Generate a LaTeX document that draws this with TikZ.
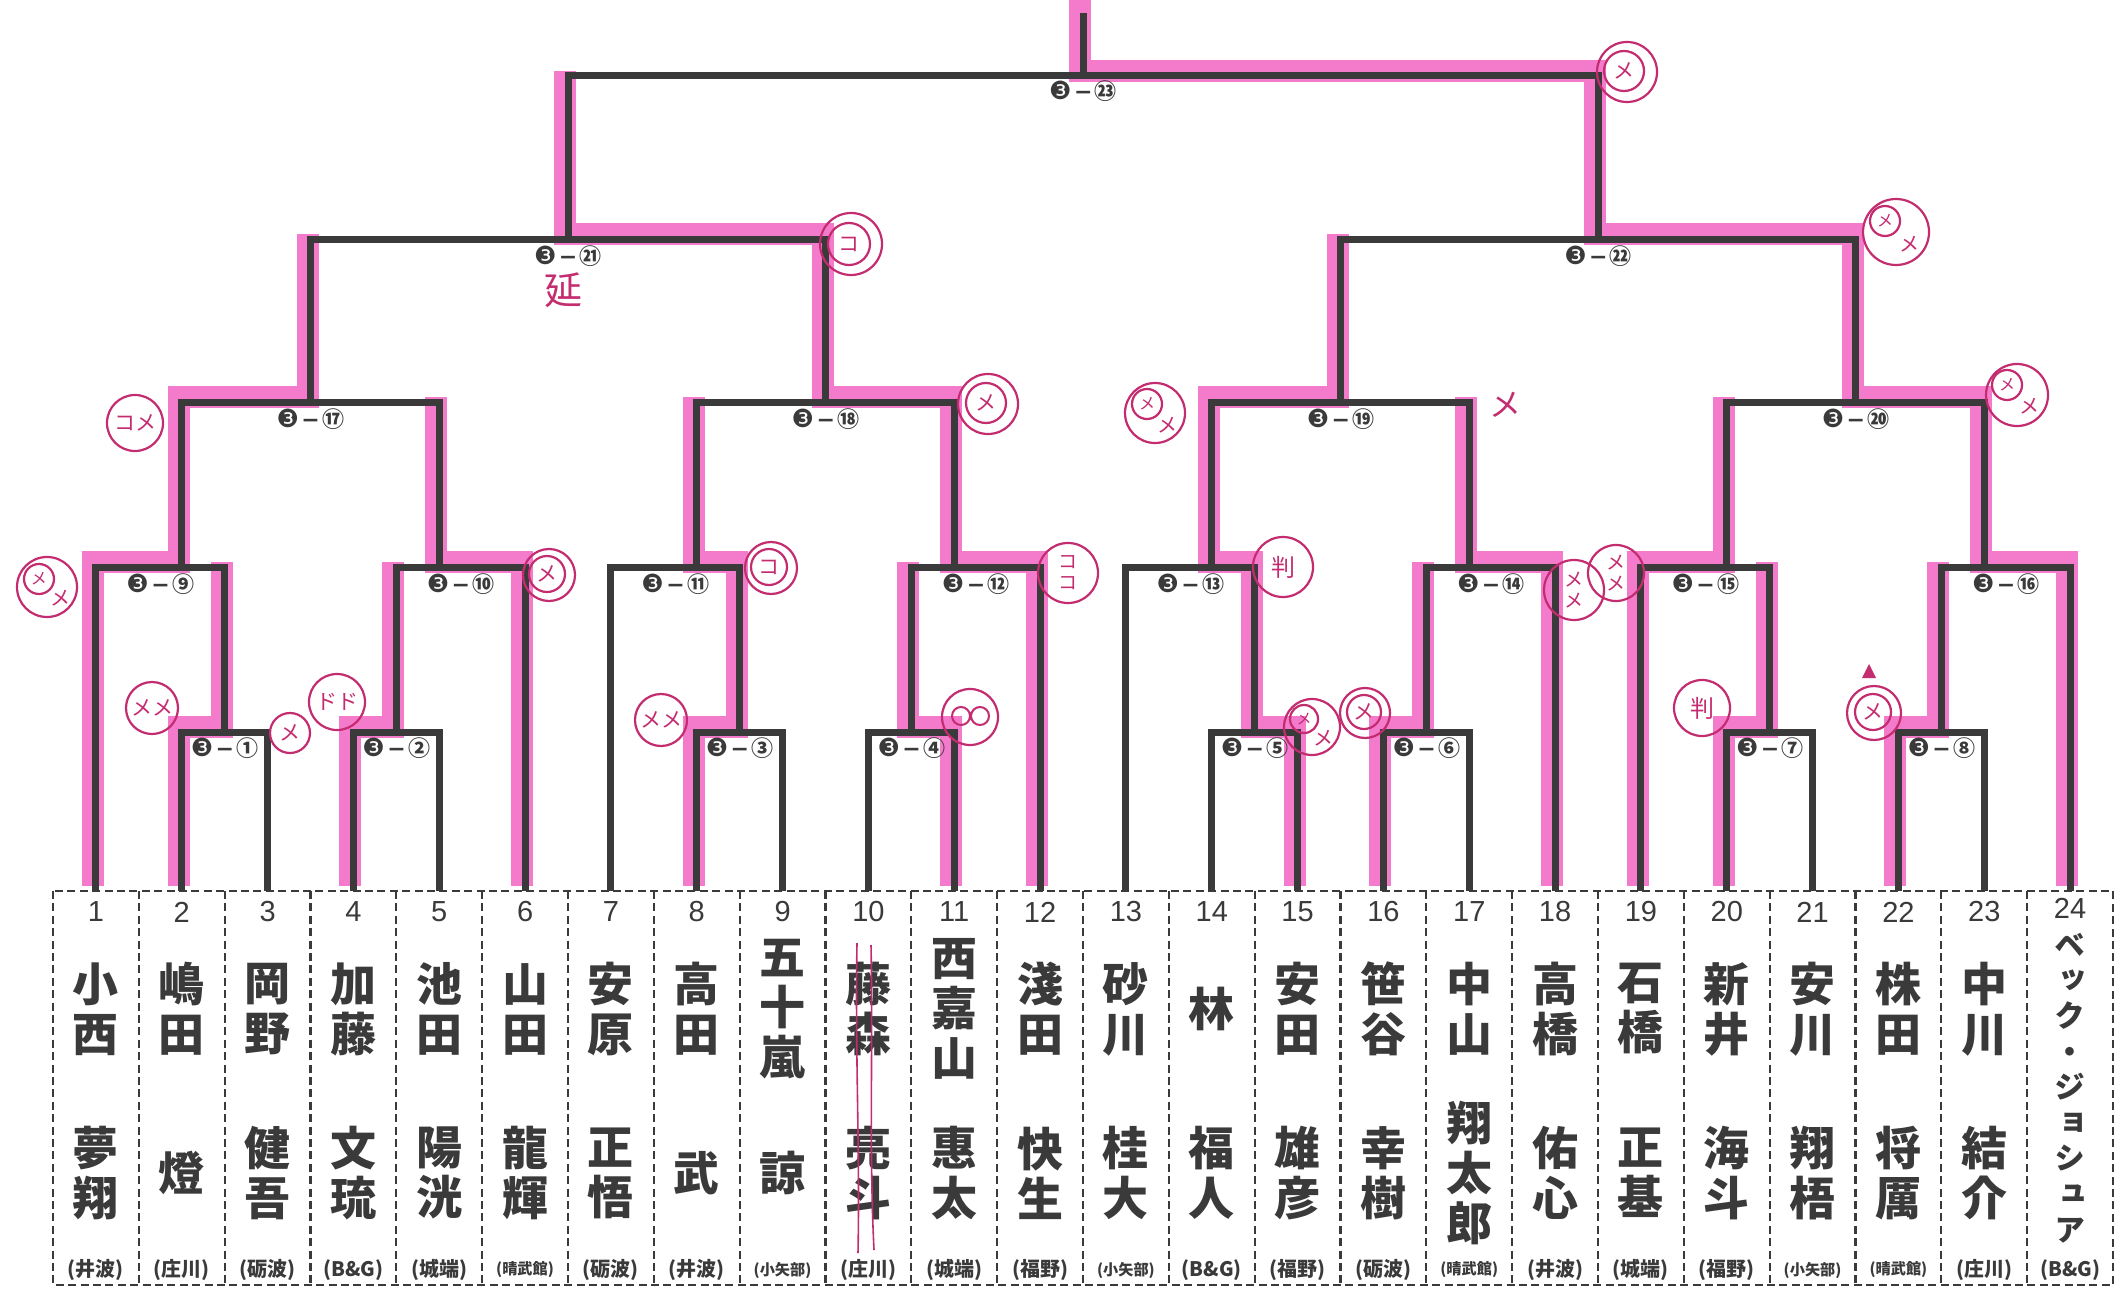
\documentclass[tikz,border=0pt]{standalone}
\usepackage{fontspec}
\usetikzlibrary{calc}
\setmainfont{Liberation Sans}
\newfontfamily\cjk{Noto Sans CJK JP}
\newfontfamily\cjkv{Noto Sans CJK JP}[RawFeature=+vert]
\newfontfamily\dvs{DejaVu Sans}
\definecolor{ink}{RGB}{58,58,58}
\definecolor{hilite}{RGB}{243,100,196}
\definecolor{pen}{RGB}{196,44,112}
\newcommand\mlab[1]{{\dvs\fontsize{12.5}{13}\selectfont ❸}{\dvs\bfseries\kern1.2pt−\kern1.2pt}{\cjk\bfseries #1}}
\newcommand\player[5]{%
  \node[pnum] (n#1) at ($(p#1)+(0,21)$) {#1};
  \node[nm] (sn#1) at ($(p#1)+(0,118)$) {#2};
  \node[nm] (gn#1) at ($(p#1)+(0,282)$) {#3};
  \node[#5] (cl#1) at ($(p#1)+(0,379)$) {(#4)};
}
\tikzset{
  br/.style={draw=ink, line width=3.5pt, line join=miter},
  hl/.style={draw=hilite, line width=11pt, opacity=0.85, line join=miter},
  dashbox/.style={draw=ink, line width=1.1pt, dash pattern=on 4pt off 2.2pt},
  pnum/.style={font=\fontsize{14.5}{16}\selectfont, text=ink, inner sep=0pt},
  nm/.style={font=\cjk\bfseries\fontsize{23}{25}\selectfont, text=ink, align=center, inner sep=0pt},
  club/.style={font=\cjk\bfseries\fontsize{10}{11}\selectfont, text=ink, inner sep=0pt},
  clubs/.style={font=\cjk\bfseries\fontsize{7.6}{8}\selectfont, text=ink, inner sep=0pt},
  lab/.style={inner sep=0pt, text=ink, font=\fontsize{11}{12}\selectfont},
  ann/.style={circle, draw=pen, line width=1.1pt, text=pen, inner sep=0pt, align=center, font=\cjk\fontsize{10.5}{11}\selectfont},
}
\begin{document}
\begin{tikzpicture}[x=0.5pt,y=-0.5pt]
\useasboundingbox (0,0) rectangle (2128,1289);
\fill[white] (0,0) rectangle (2128,1289);
\foreach \i in {1,...,24} \coordinate (p\i) at ({53+85.8333*(\i-0.5)},891);
% match points (stem positions on each horizontal)
\coordinate (m1) at (224.7,732);
\coordinate (m2) at (396.3,732);
\coordinate (m3) at (739.7,732);
\coordinate (m4) at (911.4,732);
\coordinate (m5) at (1254.7,732);
\coordinate (m6) at (1426.4,732);
\coordinate (m7) at (1769.8,732);
\coordinate (m8) at (1941.4,732);
\coordinate (m9) at (181.7,567);
\coordinate (m10) at (439.2,567);
\coordinate (m11) at (696.8,567);
\coordinate (m12) at (954.3,567);
\coordinate (m13) at (1211.8,567);
\coordinate (m14) at (1469.3,567);
\coordinate (m15) at (1726.8,567);
\coordinate (m16) at (1984.3,567);
\coordinate (m17) at (310.5,402);
\coordinate (m18) at (825.5,402);
\coordinate (m19) at (1340.6,402);
\coordinate (m20) at (1855.6,402);
\coordinate (m21) at (568,239);
\coordinate (m22) at (1598.1,239);
\coordinate (m23) at (1083,76);
\coordinate (top) at (1083,13);
\coordinate (toppink) at (1083,4);
% highlighter: winners' paths
\begin{scope}[transform canvas={xshift=-1.5pt,yshift=2.5pt}]
\draw[hl] (p1) |- (m9) |- (m17) -- (m17 |- m21);
\draw[hl] (p2) |- (m1) -- (m1 |- m9);
\draw[hl] (p4) |- (m2) -- (m2 |- m10);
\draw[hl] (p6) |- (m10) -- (m10 |- m17);
\draw[hl] (p8) |- (m3) |- (m11) -- (m11 |- m18);
\draw[hl] (p11) |- (m4) -- (m4 |- m12);
\draw[hl] (p12) |- (m12) |- (m18) |- (m21) -- (m21 |- m23);
\draw[hl] (p15) |- (m5) |- (m13) |- (m19) -- (m19 |- m22);
\draw[hl] (p16) |- (m6) -- (m6 |- m14);
\draw[hl] (p18) |- (m14) -- (m14 |- m19);
\draw[hl] (p20) |- (m7) -- (m7 |- m15);
\draw[hl] (p19) |- (m15) -- (m15 |- m20);
\draw[hl] (p22) |- (m8) -- (m8 |- m16);
\draw[hl] (p24) |- (m16) |- (m20) |- (m22) |- (m23) -- (toppink);
\end{scope}
% bracket
\draw[br] (p2) |- (m1) -| (p3);
\draw[br] (p4) |- (m2) -| (p5);
\draw[br] (p8) |- (m3) -| (p9);
\draw[br] (p10) |- (m4) -| (p11);
\draw[br] (p14) |- (m5) -| (p15);
\draw[br] (p16) |- (m6) -| (p17);
\draw[br] (p20) |- (m7) -| (p21);
\draw[br] (p22) |- (m8) -| (p23);
\draw[br] (p1) |- (m9) -| (m1);
\draw[br] (m2) |- (m10) -| (p6);
\draw[br] (p7) |- (m11) -| (m3);
\draw[br] (m4) |- (m12) -| (p12);
\draw[br] (p13) |- (m13) -| (m5);
\draw[br] (m6) |- (m14) -| (p18);
\draw[br] (p19) |- (m15) -| (m7);
\draw[br] (m8) |- (m16) -| (p24);
\draw[br] (m9) |- (m17) -| (m10);
\draw[br] (m11) |- (m18) -| (m12);
\draw[br] (m13) |- (m19) -| (m14);
\draw[br] (m15) |- (m20) -| (m16);
\draw[br] (m17) |- (m21) -| (m18);
\draw[br] (m19) |- (m22) -| (m20);
\draw[br] (m21) |- (m23) -| (m22);
\draw[br] (m23) -- (top);
% match labels
\node[lab] (L1) at (224.7,748) {\mlab{①}};
\node[lab] (L2) at (396.3,748) {\mlab{②}};
\node[lab] (L3) at (739.7,748) {\mlab{③}};
\node[lab] (L4) at (911.4,748) {\mlab{④}};
\node[lab] (L5) at (1254.7,748) {\mlab{⑤}};
\node[lab] (L6) at (1426.4,748) {\mlab{⑥}};
\node[lab] (L7) at (1769.8,748) {\mlab{⑦}};
\node[lab] (L8) at (1941.4,748) {\mlab{⑧}};
\node[lab] (L9) at (160.3,584) {\mlab{⑨}};
\node[lab] (L10) at (460.7,584) {\mlab{⑩}};
\node[lab] (L11) at (675.3,584) {\mlab{⑪}};
\node[lab] (L12) at (975.8,584) {\mlab{⑫}};
\node[lab] (L13) at (1190.4,584) {\mlab{⑬}};
\node[lab] (L14) at (1490.8,584) {\mlab{⑭}};
\node[lab] (L15) at (1705.4,584) {\mlab{⑮}};
\node[lab] (L16) at (2005.8,584) {\mlab{⑯}};
\node[lab] (L17) at (310.5,419) {\mlab{⑰}};
\node[lab] (L18) at (825.5,419) {\mlab{⑱}};
\node[lab] (L19) at (1340.6,419) {\mlab{⑲}};
\node[lab] (L20) at (1855.6,419) {\mlab{⑳}};
\node[lab] (L21) at (568,256) {\mlab{㉑}};
\node[lab] (L22) at (1598.1,256) {\mlab{㉒}};
\node[lab] (L23) at (1083,91) {\mlab{㉓}};
% entry table
\draw[dashbox] (53,891) rectangle (2113,1285);
\foreach \k in {1,...,23} \draw[dashbox] ({53+85.8333*\k},891) -- ({53+85.8333*\k},1285);
\player{1}{小\\西}{夢\\翔}{井波}{club}
\player{2}{嶋\\田}{燈}{庄川}{club}
\player{3}{岡\\野}{健\\吾}{砺波}{club}
\player{4}{加\\藤}{文\\琉}{B\&G}{club}
\player{5}{池\\田}{陽\\洸}{城端}{club}
\player{6}{山\\田}{龍\\輝}{晴武館}{clubs}
\player{7}{安\\原}{正\\悟}{砺波}{club}
\player{8}{高\\田}{武}{井波}{club}
\player{9}{五\\十\\嵐}{諒}{小矢部}{clubs}
\player{10}{藤\\森}{亮\\斗}{庄川}{club}
\player{11}{西\\嘉\\山}{惠\\太}{城端}{club}
\player{12}{淺\\田}{快\\生}{福野}{club}
\player{13}{砂\\川}{桂\\大}{小矢部}{clubs}
\player{14}{林}{福\\人}{B\&G}{club}
\player{15}{安\\田}{雄\\彦}{福野}{club}
\player{16}{笹\\谷}{幸\\樹}{砺波}{club}
\player{17}{中\\山}{翔\\太\\郎}{晴武館}{clubs}
\player{18}{高\\橋}{佑\\心}{井波}{club}
\player{19}{石\\橋}{正\\基}{城端}{club}
\player{20}{新\\井}{海\\斗}{福野}{club}
\player{21}{安\\川}{翔\\梧}{小矢部}{clubs}
\player{22}{株\\田}{将\\厲}{晴武館}{clubs}
\player{23}{中\\川}{結\\介}{庄川}{club}
\node[pnum] (n24) at ($(p24)+(0,17)$) {24};
\node[font=\cjkv\bfseries\fontsize{15.5}{17.8}\selectfont, text=ink, align=center, inner sep=0pt] (sn24) at ($(p24)+(0,197)$) {ベ\\ッ\\ク\\・\\ジ\\ョ\\シ\\ュ\\ア};
\node[club] (cl24) at ($(p24)+(0,379)$) {(B\&G)};
% handwritten marks
\node[ann, minimum size=30pt] (a1) at (1627,72) {};
\node[ann, minimum size=20pt] (a1i) at (1624,71) {メ};
\node[ann, minimum size=31pt] (a2) at (851,244) {};
\node[ann, minimum size=21pt] (a2i) at (849,244) {コ};
\node[text=pen, font=\cjk\fontsize{19}{20}\selectfont, inner sep=0pt] (a3) at (563,290) {延};
\node[ann, minimum size=33pt] (a4) at (1896,232) {};
\node[ann, minimum size=15pt, font=\cjk\fontsize{8}{9}\selectfont] (a4i) at (1885,221) {メ};
\node[text=pen, font=\cjk\fontsize{10}{11}\selectfont, inner sep=0pt] (a4t) at (1909,244) {メ};
\node[ann, minimum size=31pt] (a5) at (2017,395) {};
\node[ann, minimum size=15pt, font=\cjk\fontsize{8}{9}\selectfont] (a5i) at (2007,385) {メ};
\node[text=pen, font=\cjk\fontsize{10}{11}\selectfont, inner sep=0pt] (a5t) at (2029,406) {メ};
\node[ann, minimum size=28pt] (a6) at (135,423) {コメ};
\node[ann, minimum size=30pt] (a7) at (988,404) {};
\node[ann, minimum size=20pt] (a7i) at (986,403) {メ};
\node[ann, minimum size=30pt] (a8) at (1155,413) {};
\node[ann, minimum size=15pt, font=\cjk\fontsize{8}{9}\selectfont] (a8i) at (1147,404) {メ};
\node[text=pen, font=\cjk\fontsize{10}{11}\selectfont, inner sep=0pt] (a8t) at (1167,425) {メ};
\node[text=pen, font=\cjk\fontsize{16}{17}\selectfont, inner sep=0pt] (a9) at (1505,405) {メ};
\node[ann, minimum size=30pt] (a10) at (47,587) {};
\node[ann, minimum size=15pt, font=\cjk\fontsize{8}{9}\selectfont] (a10i) at (39,579) {メ};
\node[text=pen, font=\cjk\fontsize{10}{11}\selectfont, inner sep=0pt] (a10t) at (60,598) {メ};
\node[ann, minimum size=26pt] (a11) at (549,575) {};
\node[ann, minimum size=18pt] (a11i) at (547,574) {メ};
\node[ann, minimum size=26pt] (a12) at (771,568) {};
\node[ann, minimum size=18pt] (a12i) at (769,567) {コ};
\node[ann, minimum size=30pt, font=\cjk\fontsize{9.5}{10.5}\selectfont] (a13) at (1068,573) {コ\\コ};
\node[ann, minimum size=30pt, font=\cjk\fontsize{12}{13}\selectfont] (a14) at (1283,567) {判};
\node[ann, minimum size=30pt, font=\cjk\fontsize{9.5}{10.5}\selectfont] (a15) at (1574,590) {メ\\メ};
\node[ann, minimum size=28pt, font=\cjk\fontsize{9.5}{10.5}\selectfont] (a16) at (1616,573) {メ\\メ};
\node[ann, minimum size=26pt] (a17) at (152,708) {メメ};
\node[ann, minimum size=20pt] (a18) at (290,733) {メ};
\node[ann, minimum size=28pt] (a19) at (337,702) {ドド};
\node[ann, minimum size=26pt] (a20) at (661,720) {メメ};
\node[ann, minimum size=28pt] (a21) at (970,717) {};
\draw[pen, line width=1pt] (961,716) circle[radius=9] (980,716) circle[radius=9];
\node[ann, minimum size=28pt] (a22) at (1312,727) {};
\node[ann, minimum size=14pt, font=\cjk\fontsize{7.5}{8}\selectfont] (a22i) at (1304,719) {メ};
\node[text=pen, font=\cjk\fontsize{10}{11}\selectfont, inner sep=0pt] (a22t) at (1323,738) {メ};
\node[ann, minimum size=25pt] (a23) at (1365,713) {};
\node[ann, minimum size=17pt] (a23i) at (1364,712) {メ};
\node[ann, minimum size=28pt, font=\cjk\fontsize{12}{13}\selectfont] (a24) at (1702,708) {判};
\node[ann, minimum size=27pt] (a25) at (1874,713) {};
\node[ann, minimum size=18pt] (a25i) at (1873,712) {メ};
\fill[pen] (1869,664) -- (1876,678) -- (1862,678) -- cycle;
\draw[pen, line width=0.8pt] (857,943) .. controls (855,1050) and (860,1150) .. (858,1253);
\draw[pen, line width=0.8pt] (871,945) .. controls (873,1050) and (869,1150) .. (874,1250);
\end{tikzpicture}
\end{document}
